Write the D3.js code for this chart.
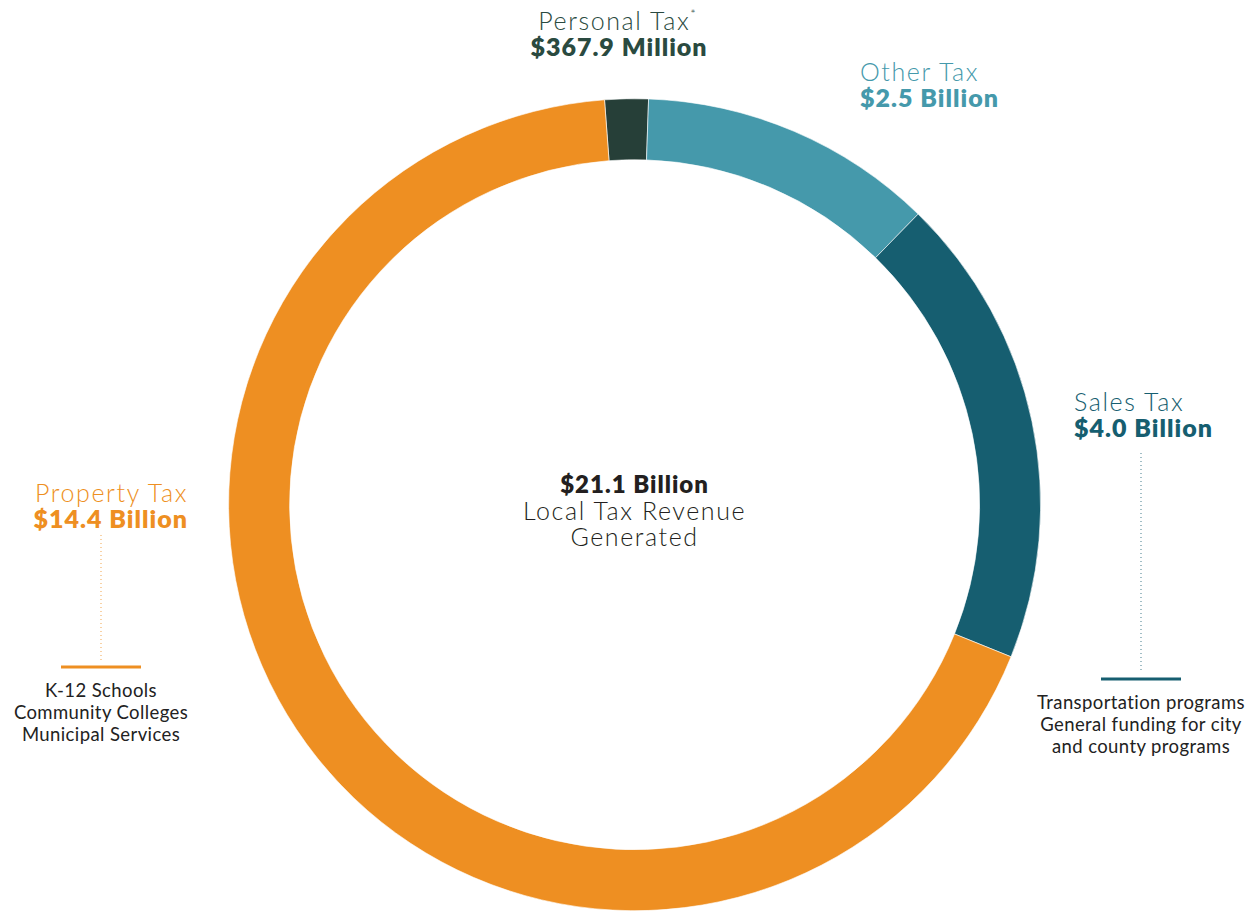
<!DOCTYPE html>
<html>
<head>
<meta charset="utf-8">
<script src="https://cdn.jsdelivr.net/npm/d3@7"></script>
<style>
  html, body { margin: 0; padding: 0; background: #fff; }
  svg text { font-family: Lato, "Open Sans", sans-serif; }
</style>
</head>
<body>
<svg id="chart" width="1260" height="912"></svg>
<script>
// Local tax revenue by source (billions of dollars)
const categories = ["Personal Tax", "Other Tax", "Sales Tax", "Property Tax"];
const values = [0.3679, 2.5, 4.0, 14.4];
const valueLabels = ["$367.9 Million", "$2.5 Billion", "$4.0 Billion", "$14.4 Billion"];
const colors = ["#263F38", "#4599AB", "#165E70", "#EE8F22"];
const labelColors = ["#2A4A40", "#4599AB", "#165E70", "#EE8F22"];
const totalLabel = "$21.1 Billion";
const centerLines = ["Local Tax Revenue", "Generated"];
const uses = {
  "Property Tax": ["K-12 Schools", "Community Colleges", "Municipal Services"],
  "Sales Tax": ["Transportation programs", "General funding for city", "and county programs"]
};

const svg = d3.select("#chart");
const cx = 634.6, cy = 504.7;
const outerR = 406, innerR = 345;

const startDeg = -4.25;
const pie = d3.pie().sort(null).value(d => d)
  .startAngle(startDeg * Math.PI / 180)
  .endAngle((startDeg + 360) * Math.PI / 180);
const arc = d3.arc().innerRadius(innerR).outerRadius(outerR);

const g = svg.append("g").attr("transform", `translate(${cx},${cy})`);
g.selectAll("path")
  .data(pie(values))
  .join("path")
  .attr("d", arc)
  .attr("fill", (d, i) => colors[i])
  .attr("stroke", "#fff")
  .attr("stroke-width", 0.6);

// Category labels: name (light) over value (bold)
const labelPos = [
  { x: 617, y: 30, anchor: "middle" },
  { x: 860, y: 81, anchor: "start" },
  { x: 1074, y: 411, anchor: "start" },
  { x: 188, y: 502, anchor: "end" }
];
categories.forEach((c, i) => {
  const p = labelPos[i];
  const t = svg.append("text")
    .attr("x", p.x).attr("y", p.y)
    .attr("text-anchor", p.anchor)
    .attr("fill", labelColors[i])
    .attr("font-size", 25)
    .attr("font-weight", 300)
    .attr("letter-spacing", 1.6)
    .text(c);
  if (i === 0) {
    t.append("tspan").attr("font-size", 13).attr("dy", -11).attr("letter-spacing", 0).text("*");
  }
  svg.append("text")
    .attr("x", p.anchor === "middle" ? p.x + 2 : p.x).attr("y", p.y + 26)
    .attr("text-anchor", p.anchor)
    .attr("fill", labelColors[i])
    .attr("font-size", 25)
    .attr("font-weight", 800)
    .attr("letter-spacing", 1.0)
    .text(valueLabels[i]);
});

// Leader lines and revenue uses
const usePos = {
  "Property Tax": { x: 101, y0: 535, y1: 660, bar: 667 },
  "Sales Tax": { x: 1141, y0: 453, y1: 672, bar: 679 }
};
Object.keys(uses).forEach(k => {
  const i = categories.indexOf(k);
  const p = usePos[k];
  svg.append("line")
    .attr("x1", p.x).attr("x2", p.x)
    .attr("y1", p.y0).attr("y2", p.y1)
    .attr("stroke", colors[i])
    .attr("stroke-opacity", 0.8)
    .attr("stroke-width", 1)
    .attr("stroke-dasharray", "1,3");
  svg.append("line")
    .attr("x1", p.x - 40).attr("x2", p.x + 40)
    .attr("y1", p.bar).attr("y2", p.bar)
    .attr("stroke", colors[i])
    .attr("stroke-width", 3);
  uses[k].forEach((line, j) => {
    svg.append("text")
      .attr("x", p.x).attr("y", p.bar + 30 + j * 22)
      .attr("text-anchor", "middle")
      .attr("fill", "#222")
      .attr("font-size", 18.5)
      .attr("letter-spacing", 0.4)
      .text(line);
  });
});

// Centre total
svg.append("text")
  .attr("x", cx).attr("y", 493)
  .attr("text-anchor", "middle")
  .attr("fill", "#231F20")
  .attr("font-size", 24)
  .attr("font-weight", 800)
  .attr("letter-spacing", 1.0)
  .text(totalLabel);
centerLines.forEach((line, j) => {
  svg.append("text")
    .attr("x", cx).attr("y", 520 + j * 26)
    .attr("text-anchor", "middle")
    .attr("fill", "#231F20")
    .attr("font-size", 25)
    .attr("font-weight", 300)
    .attr("letter-spacing", 1.6)
    .text(line);
});
</script>
</body>
</html>
